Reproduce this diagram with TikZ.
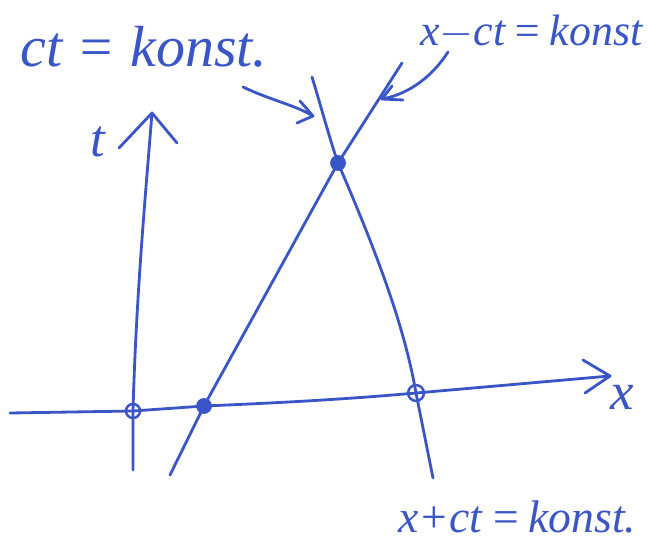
\documentclass[tikz,border=0pt]{standalone}
\usepackage{fontspec}
\setmainfont{Liberation Serif}
\definecolor{ink}{HTML}{3A56C6}
\begin{document}
\begin{tikzpicture}[x=0.02cm,y=-0.02cm,
  pen/.style={draw=ink,line width=1.6pt,line cap=round,line join=round},
  lbl/.style={text=ink,font=\fontsize{30}{32}\selectfont\itshape,inner sep=0pt},
  fdot/.style={circle,fill=ink,inner sep=0pt,minimum size=9pt},
  odot/.style={circle,draw=ink,line width=1.4pt,inner sep=0pt,minimum size=8pt}]
\useasboundingbox (0,0) rectangle (648,543);
% key points
\coordinate (xa0) at (10,413);
\coordinate (xa1) at (610,376);
\coordinate (ta0) at (133,470);
\coordinate (ta1) at (152,113);
\node[odot] (o1) at (133,411) {};
\node[fdot] (o2) at (204,406) {};
\node[fdot] (p) at (338,163) {};
\node[odot,minimum width=6pt,minimum height=9pt] (o3) at (416,393) {};
\coordinate (lA0) at (170,475);
\coordinate (lA1) at (402,63);
\coordinate (lB0) at (312,77);
\coordinate (lB1) at (433,478);
% axes
\draw[pen] (xa0) -- (o1.center) -- (o2.center) .. controls (300,402) and (360,398) .. (o3.center) -- (xa1);
\draw[pen] (583,360) -- (xa1) -- (585,393);
\draw[pen] (ta0) -- (o1.center) .. controls (136,300) and (145,200) .. (ta1);
\draw[pen] (119,148) -- (ta1) -- (177,143);
% lines
\draw[pen] (lA0) -- (o2.center) -- (p.center) -- (lA1);
\draw[pen] (lB0) .. controls (322,110) and (330,140) .. (p.center)
  .. controls (380,260) and (405,330) .. (o3.center) -- (lB1);
% labels
\node[lbl] (t) at (98,142) {t};
\node[lbl] (x) at (622,397) {x};
\node[lbl,anchor=west,font=\fontsize{33}{35}\selectfont\itshape] (L1) at (20,47) {ct = konst.};
\node[lbl,anchor=west,font=\fontsize{25}{27}\selectfont\itshape] (L2) at (420,32) {x$-$ct\,=\,konst};
\node[lbl,anchor=west,font=\fontsize{26}{28}\selectfont\itshape] (L3) at (398,517) {x+ct\,=\,konst.};
% label arrows
\coordinate (a1s) at (243,87);
\coordinate (a1e) at (313,116);
\draw[pen] (a1s) .. controls (270,100) and (295,105) .. (a1e);
\draw[pen] (300,101) -- (a1e) -- (297,123);
\coordinate (a2s) at (448,52);
\coordinate (a2e) at (382,99);
\draw[pen] (a2s) .. controls (430,80) and (405,95) .. (a2e);
\draw[pen] (392,86) -- (a2e) -- (403,100);
\end{tikzpicture}
\end{document}
